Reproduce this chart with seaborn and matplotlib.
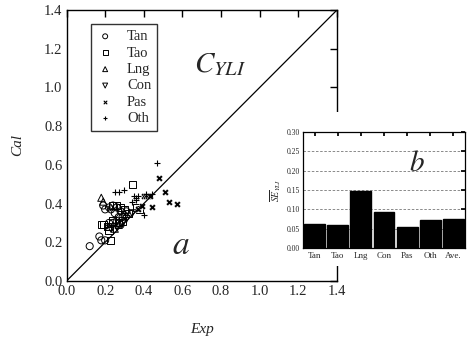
import numpy as np
import pandas as pd
import matplotlib
matplotlib.use("Agg")
import matplotlib.pyplot as plt
import seaborn as sns

# ---- data ----
tan_x = [0.12, 0.17, 0.18, 0.20, 0.19, 0.20, 0.22, 0.23, 0.24, 0.25, 0.26, 0.27, 0.28, 0.29, 0.30, 0.26, 0.24, 0.22, 0.28, 0.31]
tan_y = [0.18, 0.23, 0.21, 0.21, 0.39, 0.37, 0.38, 0.37, 0.39, 0.35, 0.38, 0.33, 0.36, 0.33, 0.34, 0.31, 0.30, 0.30, 0.29, 0.36]
tao_x = [0.18, 0.19, 0.21, 0.22, 0.23, 0.24, 0.26, 0.28, 0.30, 0.34, 0.36, 0.38, 0.24, 0.27, 0.29, 0.32]
tao_y = [0.29, 0.29, 0.28, 0.26, 0.21, 0.39, 0.39, 0.38, 0.37, 0.50, 0.38, 0.37, 0.31, 0.30, 0.31, 0.35]
lng_x = [0.18, 0.19, 0.22, 0.25, 0.27]
lng_y = [0.43, 0.41, 0.28, 0.27, 0.29]
con_x = [0.23, 0.26, 0.29, 0.31, 0.34]
con_y = [0.27, 0.28, 0.30, 0.32, 0.35]
pas_x = [0.37, 0.39, 0.40, 0.41, 0.42, 0.43, 0.44, 0.48, 0.51, 0.53, 0.57]
pas_y = [0.37, 0.39, 0.44, 0.44, 0.44, 0.44, 0.38, 0.53, 0.46, 0.41, 0.40]
oth_x = [0.47, 0.25, 0.27, 0.30, 0.35, 0.36, 0.37, 0.36, 0.40, 0.41, 0.44, 0.34]
oth_y = [0.61, 0.46, 0.46, 0.47, 0.44, 0.43, 0.44, 0.42, 0.34, 0.45, 0.45, 0.41]

groups = ["Tan", "Tao", "Lng", "Con", "Pas", "Oth"]
bar_labels = ["Tan", "Tao", "Lng", "Con", "Pas", "Oth", "Ave."]
bar_values = [0.063, 0.060, 0.148, 0.092, 0.055, 0.072, 0.075]

xy = {"Tan": (tan_x, tan_y), "Tao": (tao_x, tao_y), "Lng": (lng_x, lng_y),
      "Con": (con_x, con_y), "Pas": (pas_x, pas_y), "Oth": (oth_x, oth_y)}
markers = {"Tan": "o", "Tao": "s", "Lng": "^", "Con": "v", "Pas": "X", "Oth": "+"}

sns.set_theme(style="white")
plt.rcParams["font.family"] = ["Liberation Serif", "DejaVu Serif"]
plt.rcParams["mathtext.fontset"] = "stix"

W, H = 469, 340
fig = plt.figure(figsize=(W / 100, H / 100), dpi=100)
fig.patch.set_facecolor("white")

def pos(l, t, r, b):
    return [l / W, (H - b) / H, (r - l) / W, (b - t) / H]

ax = fig.add_axes(pos(66.5, 10, 337, 281))
ax.set_facecolor("white")
for g in groups:
    x, y = xy[g]
    df = pd.DataFrame({"x": x, "y": y})
    m = markers[g]
    if m == "+":
        sns.scatterplot(data=df, x="x", y="y", ax=ax, marker="+", color="black",
                        s=22, linewidth=0.8, label=g)
    elif m == "X":
        sns.scatterplot(data=df, x="x", y="y", ax=ax, marker="X", color="black",
                        s=24, linewidth=0.3, label=g)
    else:
        sns.scatterplot(data=df, x="x", y="y", ax=ax, marker=m, facecolor="none",
                        edgecolor="black", s=26, linewidth=0.7, label=g)
ax.plot([0, 1.4], [0, 1.4], color="black", lw=0.9)
ax.set_xlim(0, 1.4)
ax.set_ylim(0, 1.4)
ticks = [0.0, 0.2, 0.4, 0.6, 0.8, 1.0, 1.2, 1.4]
ax.set_xticks(ticks)
ax.set_yticks(ticks)
ax.set_xticklabels([f"{t:.1f}" for t in ticks], fontsize=10.5)
ax.set_yticklabels([f"{t:.1f}" for t in ticks], fontsize=10.5)
ax.tick_params(direction="in", length=5, width=1, top=True, right=True, color="black", pad=3)
for s in ax.spines.values():
    s.set_color("black")
    s.set_linewidth(1)
ax.set_xlabel("Exp", fontsize=11, style="italic", labelpad=18)
ax.set_ylabel("Cal", fontsize=11, style="italic", labelpad=14)
ax.text(0.47, 0.80, r"$C_{YLI}$", transform=ax.transAxes, fontsize=21, ha="left", va="center")
ax.text(0.39, 0.13, r"$a$", transform=ax.transAxes, fontsize=24, ha="left", va="center")
leg = ax.legend(loc="upper left", bbox_to_anchor=(0.089, 0.948), borderaxespad=0,
                fontsize=10.5, frameon=True, fancybox=False, edgecolor="black",
                labelspacing=0.22, handletextpad=0.9, handlelength=1.2, borderpad=0.4,
                markerscale=0.7)
leg.get_frame().set_linewidth(1)

# white cover behind the inset
cover = fig.add_axes(pos(275, 112, 469, 266))
cover.set_facecolor("white")
cover.set_xticks([])
cover.set_yticks([])
for s in cover.spines.values():
    s.set_visible(False)

ins = fig.add_axes(pos(303, 132, 465, 248))
ins.set_facecolor("white")
bdf = pd.DataFrame({"label": bar_labels, "value": bar_values})
sns.barplot(data=bdf, x="label", y="value", ax=ins, color="black", width=0.9,
            saturation=1, edgecolor="black", zorder=3)
ins.set_ylim(0, 0.30)
ins.set_xlim(-0.5, 6.5)
ins.set_yticks([0.00, 0.05, 0.10, 0.15, 0.20, 0.25, 0.30])
ins.set_yticklabels(["0.00", "0.05", "0.10", "0.15", "0.20", "0.25", "0.30"], fontsize=5.5)
ins.set_xticks(range(7))
ins.set_xticklabels(bar_labels, fontsize=6.5)
ins.tick_params(axis="x", direction="in", length=3, top=True, bottom=False, pad=3, color="black")
ins.tick_params(axis="y", direction="in", length=3, right=True, pad=2, color="black")
ins.yaxis.grid(True, linestyle=(0, (3, 2)), color="#777777", linewidth=0.6)
ins.set_axisbelow(True)
ins.set_xlabel("")
ins.set_ylabel(r"$\overline{SE}_{YLI}$", fontsize=7, labelpad=3)
for s in ins.spines.values():
    s.set_color("black")
    s.set_linewidth(0.9)
ins.text(0.70, 0.72, r"$b$", transform=ins.transAxes, fontsize=21, ha="center", va="center")

fig.savefig("out.png", dpi=100, facecolor="white")
